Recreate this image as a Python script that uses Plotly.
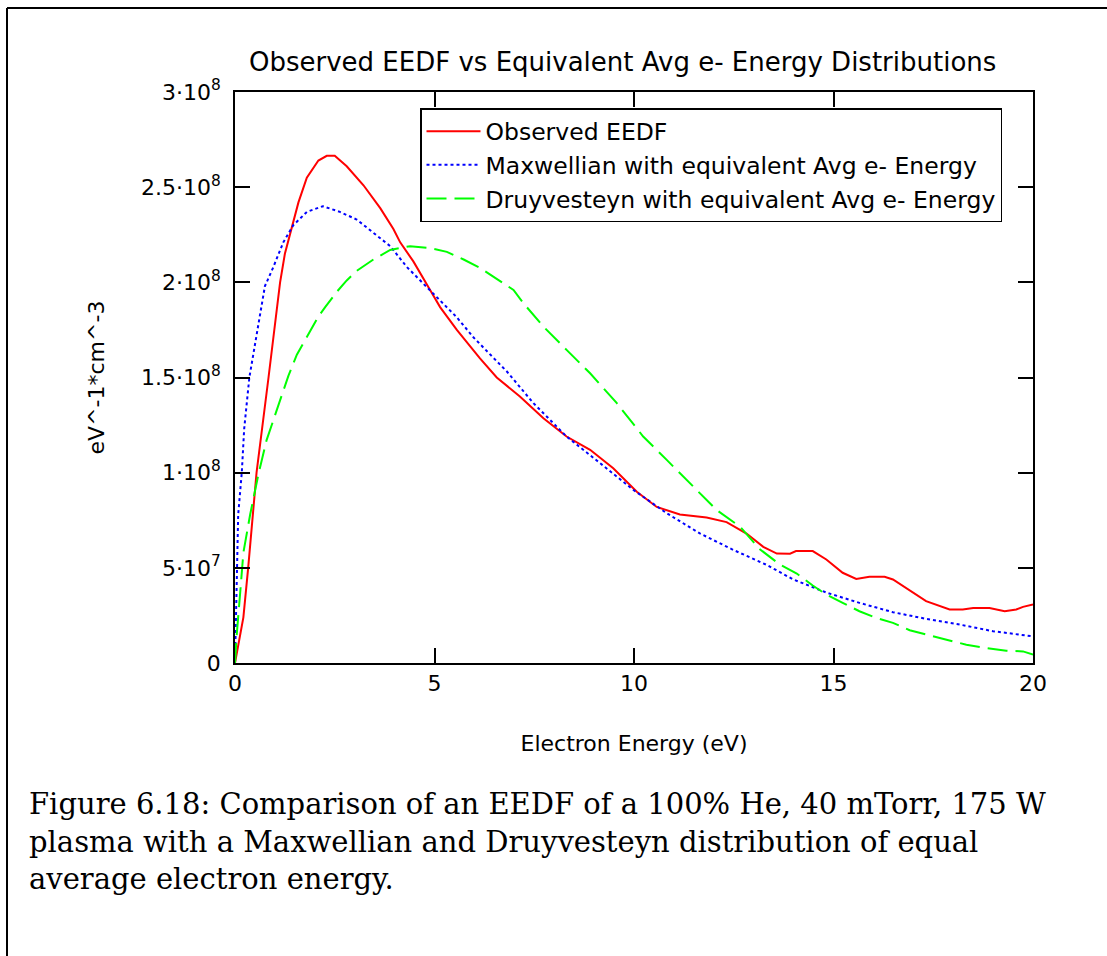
import plotly.graph_objects as go

# ---- data (energy in eV, values in units of 1e6 eV^-1 cm^-3) ----
obs_e = [0, 0.21, 0.33, 0.54, 0.84, 1.13, 1.25, 1.59, 1.8, 2.09, 2.3, 2.5, 2.8, 3.22, 3.64,
         3.97, 4.14, 4.47, 4.89, 5.14, 5.56, 6.14, 6.56, 7.14, 7.73, 8.31, 8.9, 9.48, 10.07,
         10.57, 11.15, 11.82, 12.32, 12.82, 13.24, 13.58, 13.91, 14.06, 14.48, 14.82, 15.23,
         15.57, 15.9, 16.28, 16.49, 16.82, 17.32, 17.91, 18.24, 18.5, 18.91, 19.29, 19.58,
         19.75, 20]
obs_v = [0, 24, 50, 100, 150, 200, 215, 242, 255, 264, 266.5, 266.5, 261, 251, 239,
         228, 221, 211, 196, 187, 175, 160, 150, 140, 128.6, 119, 112, 102.3, 90,
         82, 78, 76.4, 74, 68, 61, 57.5, 57.4, 58.8, 58.8, 54.4, 47.4,
         44.2, 45.3, 45.3, 43.9, 39.5, 32.5, 28.1, 28.1, 28.9, 28.9, 27.2, 28.1,
         29.5, 30.7]

max_e = [0, 0.04, 0.08, 0.17, 0.23, 0.36, 0.5, 0.63, 0.75, 0.96, 1.21, 1.46, 1.8, 2.2,
         2.63, 3.05, 3.47, 3.89, 4.31, 4.72, 5.14, 5.56, 5.98, 6.4, 6.82, 7.48, 8.31, 9.15,
         9.98, 10.82, 11.65, 12.49, 13.33, 13.98, 14.82, 15.65, 16.49, 17.32, 18.16, 19, 20]
max_v = [0, 50, 78, 100, 123, 150, 167, 185, 198, 208, 221, 230, 237, 240,
         237, 233, 226, 219, 208, 199.5, 190.5, 181.6, 171, 162, 153, 136.5, 119, 105,
         91, 78.7, 68.1, 59.4, 51.5, 44, 37, 31.6, 26.7, 23.2, 20.2, 16.7, 14]

dru_e = [0, 0.04, 0.13, 0.21, 0.38, 0.59, 0.79, 1.05, 1.34, 1.55, 1.8, 2.09, 2.26, 2.55,
         2.8, 3.05, 3.47, 3.89, 4.39, 4.89, 5.31, 5.73, 6.15, 6.56, 6.98, 7.23, 7.73, 8.31,
         8.9, 9.57, 10.23, 10.82, 11.4, 12.07, 12.66, 13.14, 13.65, 14.08, 14.48, 14.82,
         15.23, 15.65, 16.07, 16.49, 16.91, 17.32, 17.83, 18.33, 18.83, 19.33, 19.75, 20]
dru_v = [0, 14, 37, 58, 78, 99.5, 117, 133, 151, 162, 171, 182, 187, 195,
         201, 206, 212, 217, 219, 218, 216, 212, 207.5, 202, 196, 189, 176.7, 164.5,
         152.2, 136.5, 119, 106.7, 94.4, 80.4, 71.6, 60, 51.8, 47, 40.7, 36,
         31.6, 27.2, 23.7, 21.1, 17.2, 14.9, 12.3, 9.6, 7.9, 6.5, 6.1, 4.4]

series_names = ["Observed EEDF",
                "Maxwellian with equivalent Avg e- Energy",
                "Druyvesteyn with equivalent Avg e- Energy"]

x_ticks = [0, 5, 10, 15, 20]
y_ticks = [0, 5e7, 1e8, 1.5e8, 2e8, 2.5e8, 3e8]
y_ticktext = ["0", "5·10<sup>7</sup>", "1·10<sup>8</sup>", "1.5·10<sup>8</sup>",
              "2·10<sup>8</sup>", "2.5·10<sup>8</sup>", "3·10<sup>8</sup>"]

title_text = "Observed EEDF vs Equivalent Avg e- Energy Distributions"
x_title = "Electron Energy (eV)"
y_title = "eV^-1*cm^-3"
caption_lines = ["Figure 6.18: Comparison of an EEDF of a 100% He, 40 mTorr, 175 W",
                 "plasma with a Maxwellian and Druyvesteyn distribution of equal",
                 "average electron energy."]

SANS = "DejaVu Sans"
SERIF = "DejaVu Serif"

fig = go.Figure()
fig.add_trace(go.Scatter(x=obs_e, y=[v * 1e6 for v in obs_v], mode="lines",
                         name=series_names[0], line=dict(color="#ff0000", width=2)))
fig.add_trace(go.Scatter(x=max_e, y=[v * 1e6 for v in max_v], mode="lines",
                         name=series_names[1],
                         line=dict(color="#0000ff", width=2, dash="3px,3px")))
fig.add_trace(go.Scatter(x=dru_e, y=[v * 1e6 for v in dru_v], mode="lines",
                         name=series_names[2],
                         line=dict(color="#00ff00", width=2, dash="20px,8px")))

L, R, T, B = 235, 1033, 92, 663
W, H = 1107, 956
pw, ph = R - L, B - T


def px(xp):
    return (xp - L) / pw


def py(yp):
    return (B - yp) / ph


fig.update_layout(
    width=W, height=H,
    margin=dict(l=L, r=W - R, t=T, b=H - B, pad=0),
    paper_bgcolor="white", plot_bgcolor="white",
    font=dict(family=SANS, size=22, color="black"),
    showlegend=True,
    legend=dict(x=px(420), y=py(108), xanchor="left", yanchor="top",
                bordercolor="black", borderwidth=1.5, bgcolor="white",
                itemwidth=54,
                font=dict(family=SANS, size=23.5), tracegroupgap=0),
    xaxis=dict(range=[0, 20], tickvals=x_ticks, ticktext=[str(t) for t in x_ticks],
               showgrid=False, zeroline=False, showline=True, linecolor="black",
               linewidth=1.5, mirror="ticks", ticks="inside", ticklen=15,
               tickcolor="black", tickwidth=1.5,
               tickfont=dict(family=SANS, size=22),
               title=dict(text=x_title, font=dict(family=SANS, size=22), standoff=40)),
    yaxis=dict(range=[0, 3e8], tickvals=y_ticks, ticktext=y_ticktext,
               showgrid=False, zeroline=False, showline=True, linecolor="black",
               linewidth=1.5, mirror="ticks", ticks="inside", ticklen=15,
               tickcolor="black", tickwidth=1.5, ticklabelstandoff=8,
               tickfont=dict(family=SANS, size=22),
               title=dict(text=y_title, font=dict(family=SANS, size=22), standoff=30)),
)

# title
fig.add_annotation(text=title_text, xref="paper", yref="paper", x=px(622), y=py(62),
                   xanchor="center", yanchor="middle", showarrow=False,
                   font=dict(family=SANS, size=26))

# caption
for i, line in enumerate(caption_lines):
    fig.add_annotation(text=line, xref="paper", yref="paper", x=px(27), y=py(804 + 37.5 * i),
                       xanchor="left", yanchor="middle", showarrow=False,
                       font=dict(family=SERIF, size=29))

# frame lines (left and top)
fig.add_shape(type="line", xref="paper", yref="paper", x0=px(7), x1=px(7),
              y0=py(8), y1=py(960), line=dict(color="black", width=2))
fig.add_shape(type="line", xref="paper", yref="paper", x0=px(7), x1=px(1110),
              y0=py(8), y1=py(8), line=dict(color="black", width=2))

fig.write_html("out.html")
